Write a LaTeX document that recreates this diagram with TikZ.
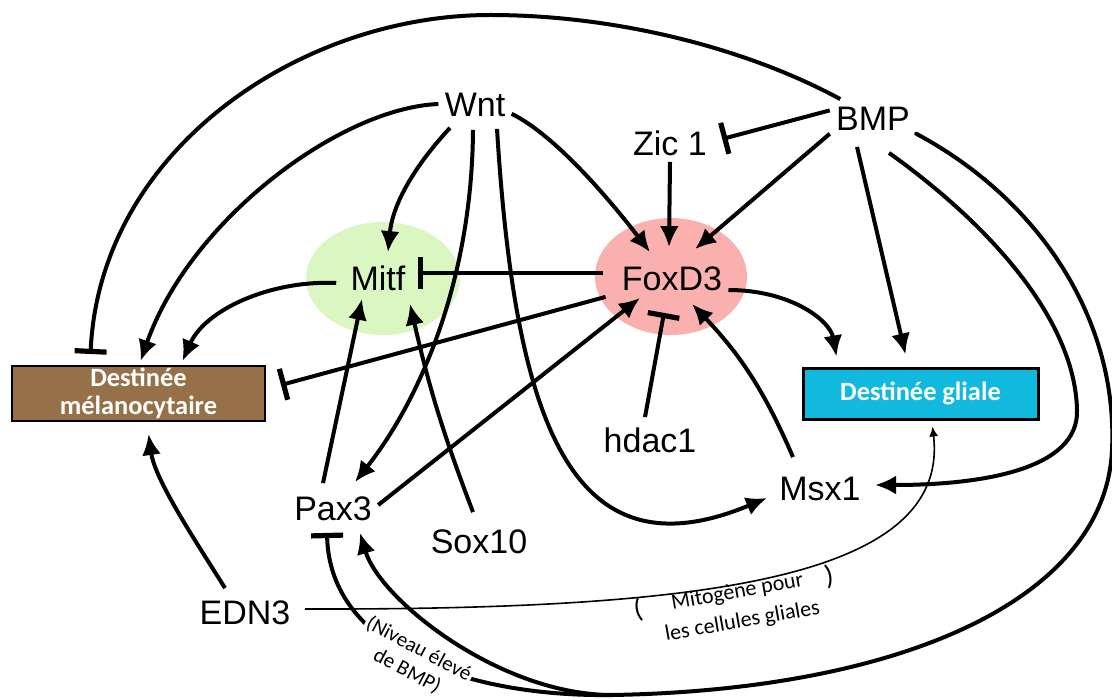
\documentclass[tikz,border=0pt]{standalone}
\usepackage{fontspec}
\usetikzlibrary{arrows.meta,shapes.geometric}
\newfontfamily\lblfont{Liberation Sans}
\newfontfamily\boxfont{Carlito}
\definecolor{melbrown}{RGB}{150,112,72}
\definecolor{glialblue}{RGB}{18,185,222}
\definecolor{mitfgreen}{RGB}{218,247,194}
\definecolor{foxpink}{RGB}{251,176,176}
\tikzset{
  lbl/.style={font=\lblfont\fontsize{17}{20}\selectfont, inner sep=3pt, text height=12.5pt, text depth=0pt},
  fatebox/.style={draw=black, text=white, font=\boxfont\bfseries\fontsize{13.2}{14}\selectfont, inner sep=0pt, align=center},
  blob/.style={ellipse, inner sep=0pt},
  note/.style={font=\boxfont\fontsize{11}{15}\selectfont, inner sep=1pt, align=center},
  act/.style={line width=2pt, -{Latex[length=10.5pt,width=9.5pt]}},
  inh/.style={line width=2pt, -{Bar[width=16pt,line width=2.6pt]}},
  plain/.style={line width=2pt, line cap=round},
  thinact/.style={line width=0.8pt, -{Latex[length=5pt,width=4.5pt]}},
}
\begin{document}
\begin{tikzpicture}[x=0.5pt, y=-0.5pt]
\useasboundingbox (0,0) rectangle (1112,700);

% background blobs and fate boxes
\node[blob, fill=mitfgreen, minimum width=77pt, minimum height=56.5pt] (MitfBg) at (383,278.5) {};
\node[blob, fill=foxpink, minimum width=76pt, minimum height=58.5pt] (FoxBg) at (671,276.5) {};
\node[fatebox, fill=melbrown, line width=1pt, minimum width=126.5pt, minimum height=27.5pt] (DM) at (138.5,393.5) {Destinée\\mélanocytaire};
\node[fatebox, fill=glialblue, line width=1.5pt, minimum width=117.5pt, minimum height=25.5pt] (DG) at (920.5,393.5) {Destinée gliale};

% gene nodes
\node[lbl] (Wnt) at (475,104) {Wnt};
\node[lbl] (Zic) at (670,143) {Zic 1};
\node[lbl] (BMP) at (873,118) {BMP};
\node[lbl] (Mitf) at (378,278) {Mitf};
\node[lbl] (FoxD3) at (672,278) {FoxD3};
\node[lbl] (hdac) at (650,440) {hdac1};
\node[lbl] (Msx) at (820,488) {Msx1};
\node[lbl] (Pax) at (333,508) {Pax3};
\node[lbl] (Sox) at (479,541) {Sox10};
\node[lbl] (EDN) at (245,612) {EDN3};

\coordinate (split) at (612,695);

% BMP -| melanocyte fate (top arc)
\draw[inh] (BMP.150) .. controls (750,50) and (620,15) .. (490,15)
  .. controls (300,15) and (100,150) .. ([xshift=-24pt,yshift=5.5pt]DM.north);
% Wnt edges
\draw[act] (Wnt.west) .. controls (340,108) and (190,220) .. ([xshift=1pt,yshift=2pt]DM.north);
\draw[act] ([xshift=-12.5pt,yshift=-2.5pt]Wnt.south) .. controls (420,160) and (393,200) .. ([xshift=5pt,yshift=3.5pt]Mitf.north);
\draw[act] ([xshift=-1pt,yshift=-3.5pt]Wnt.south) .. controls (472,280) and (420,400) .. ([xshift=11pt,yshift=3.5pt]Pax.north);
\draw[act] ([xshift=11pt,yshift=-3pt]Wnt.south) .. controls (515,420) and (570,580) .. ([xshift=-3pt,yshift=-5pt]Msx.west);
\draw[act] (Wnt.-15) .. controls (555,135) and (610,200) .. ([xshift=-11pt,yshift=3.5pt]FoxD3.north);
% Zic1, BMP
\draw[act] (Zic.south) -- ([xshift=-1.5pt,yshift=6pt]FoxD3.north);
\draw[inh] (BMP.170) -- ([xshift=4.5pt,yshift=2pt]Zic.east);
\draw[act] (BMP.-160) -- ([xshift=11.5pt,yshift=5pt]FoxD3.north);
\draw[act] ([xshift=-8pt,yshift=-5pt]BMP.south) -- ([xshift=-7.5pt,yshift=6pt]DG.north);
\draw[act] ([xshift=8pt,yshift=-8pt]BMP.south) .. controls (990,225) and (1075,320) .. (1077,410)
  .. controls (1079,470) and (980,485) .. ([xshift=4pt,yshift=1.5pt]Msx.east);
% big BMP loop to Pax3
\draw[plain] (BMP.-20) .. controls (1040,200) and (1118,320) .. (1112,450)
  .. controls (1105,600) and (900,690) .. (split);
\draw[act, line cap=round] (split) .. controls (500,695) and (380,600) .. ([xshift=13.5pt,yshift=-3pt]Pax.south);
\draw[inh, line cap=round] (split) .. controls (470,697) and (330,650) .. ([xshift=-3pt,yshift=-3pt]Pax.south);
% FoxD3 edges
\draw[inh] ([xshift=-6.5pt,yshift=2.5pt]FoxD3.west) -- ([xshift=3pt,yshift=2.5pt]Mitf.east);
\draw[inh] ([xshift=-5pt]FoxD3.south west) -- ([xshift=7.5pt,yshift=4.25pt]DM.east);
\draw[act] ([yshift=-6pt]FoxD3.east) .. controls (790,290) and (830,320) .. ([xshift=-42pt,yshift=5pt]DG.north);
% Mitf to melanocyte fate
\draw[act] ([xshift=-4pt,yshift=-2.5pt]Mitf.west) .. controls (270,280) and (205,310) .. ([xshift=22pt,yshift=2pt]DM.north);
% Pax3, Sox10
\draw[act] ([xshift=-5pt,yshift=3pt]Pax.north) -- ([xshift=-8pt,yshift=-1pt]Mitf.south);
\draw[act] ([xshift=-3pt,yshift=5pt]Sox.north) to[bend left=4] ([xshift=16pt,yshift=-3.5pt]Mitf.south);
\draw[act] ([yshift=1.5pt]Pax.east) -- ([xshift=-16pt,yshift=-0.5pt]FoxD3.south);
% hdac1, Msx1
\draw[inh] ([xshift=-2.5pt,yshift=2pt]hdac.north) -- ([xshift=-4pt,yshift=-8pt]FoxD3.south);
\draw[act] ([xshift=-13.5pt,yshift=6pt]Msx.north) to[bend right=10] ([xshift=10pt,yshift=-3.5pt]FoxD3.south);
% EDN3
\draw[act] ([xshift=-10pt,yshift=2.5pt]EDN.north) .. controls (195,540) and (155,480) .. ([xshift=5pt,yshift=-6pt]DM.south);
\draw[thinact] ([xshift=4pt,yshift=1.5pt]EDN.east) .. controls (700,610) and (950,580) .. ([xshift=6pt,yshift=-3pt]DG.south);

% annotations
\node[note, rotate=10] (mito) at (740,607) {Mitogène pour\\les cellules gliales};
\node[note, rotate=10, font=\boxfont\fontsize{14}{16}\selectfont] (lpar) at (638,610) {(};
\node[note, rotate=10, font=\boxfont\fontsize{14}{16}\selectfont] (rpar) at (829,577) {)};
\node[note, rotate=-28, fill=white, font=\boxfont\fontsize{10.5}{12.5}\selectfont] (niv) at (413,660) {(Niveau élevé\\de BMP)};
\end{tikzpicture}
\end{document}
